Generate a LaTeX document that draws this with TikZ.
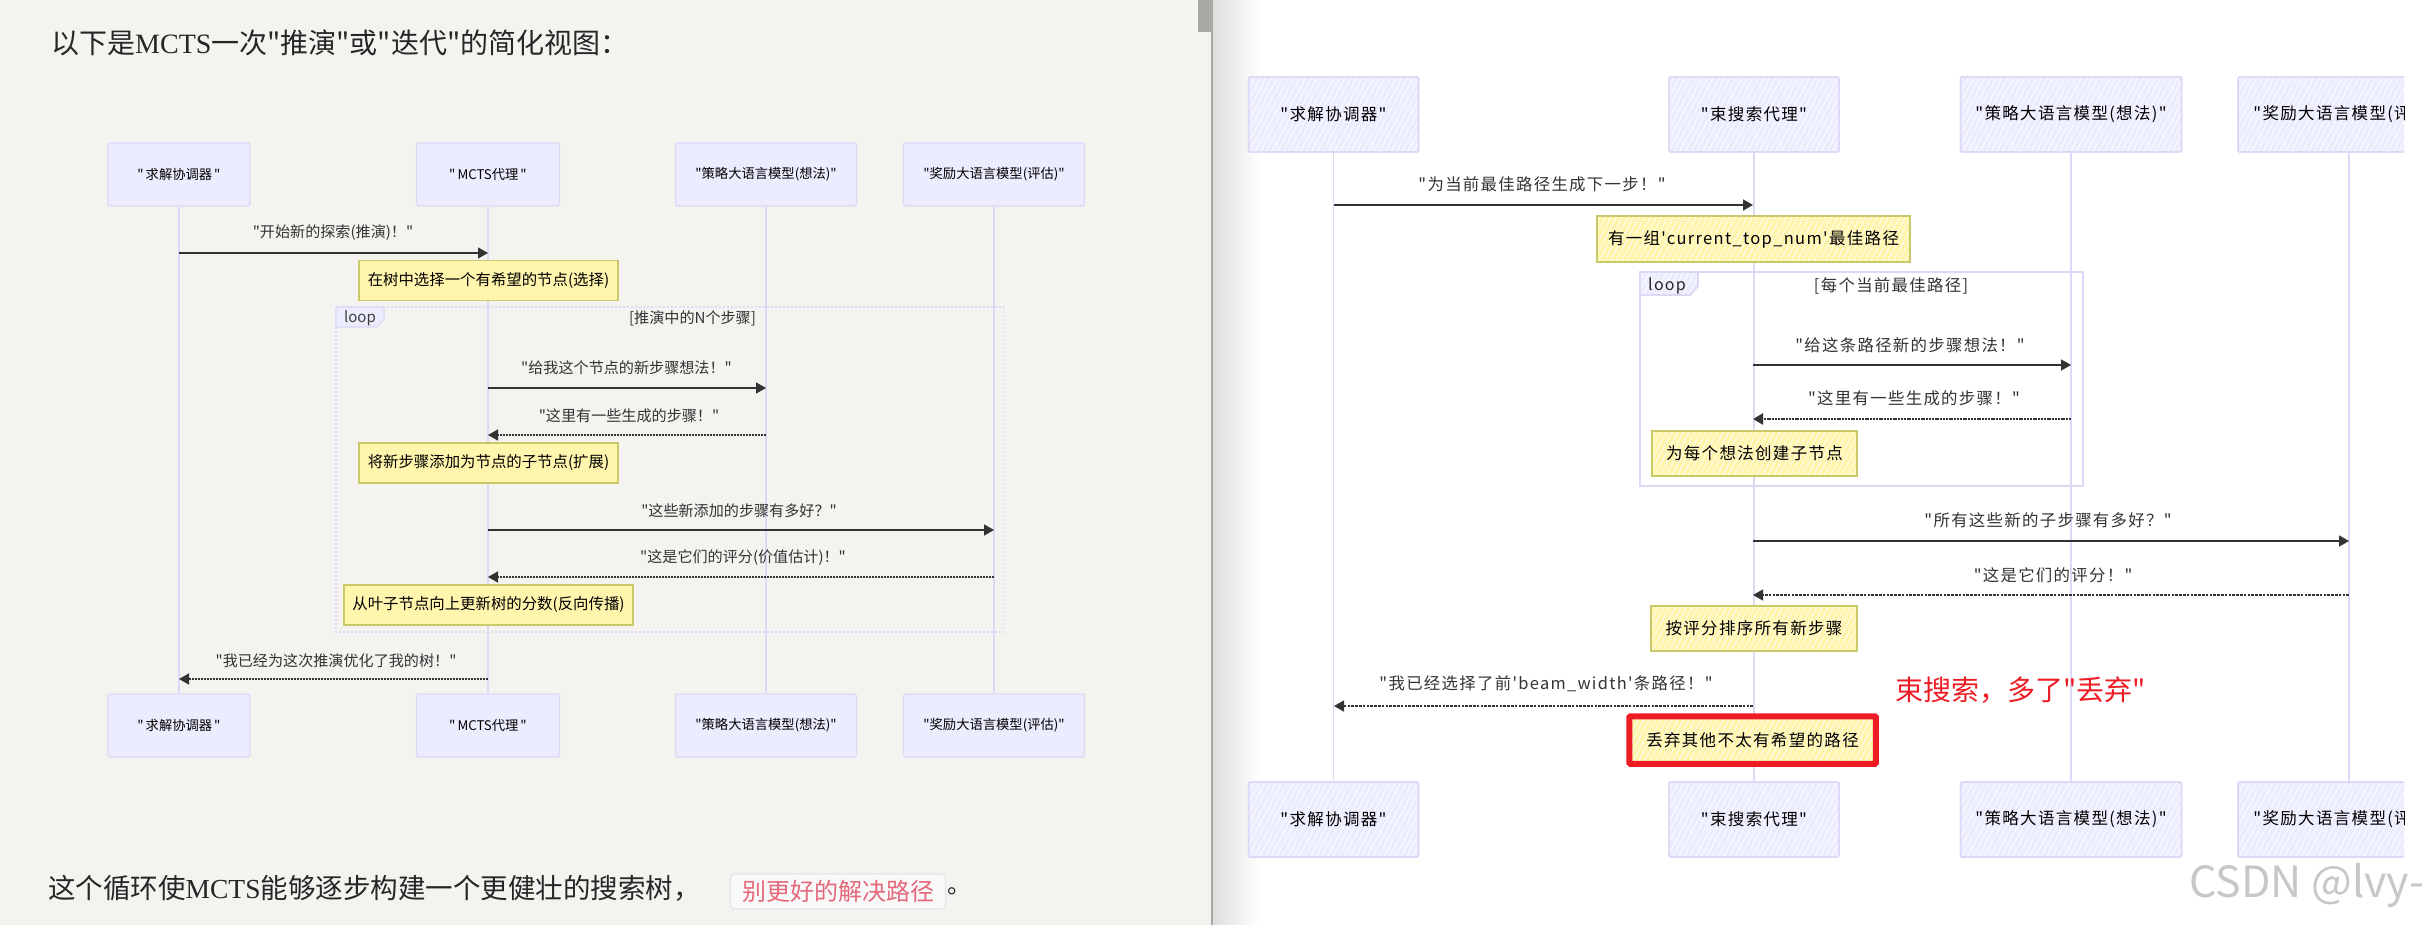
\documentclass[tikz,border=0pt]{standalone}
\usepackage{fontspec}
\setmainfont{Liberation Serif}
\newfontfamily\cjk{Noto Sans CJK SC}
\newfontfamily\cjkh[LetterSpace=8]{Noto Sans CJK SC}
\usetikzlibrary{arrows.meta,patterns.meta}
\definecolor{panelbg}{HTML}{F4F3F0}
\definecolor{actorfill}{HTML}{ECECFF}
\definecolor{actorline}{HTML}{DDD8F6}
\definecolor{notefill}{HTML}{FFF5AD}
\definecolor{noteline}{HTML}{C9C96A}
\definecolor{msgcol}{HTML}{333333}
\definecolor{markred}{HTML}{ED1C24}
\definecolor{chipfill}{HTML}{F9F9F9}
\definecolor{chipline}{HTML}{E6E6EA}
\definecolor{chiptext}{HTML}{E4687A}
\definecolor{barcol}{HTML}{A9A8A5}
\newcommand{\qt}[1]{"\kern2pt #1\kern2pt "}
% full width punctuation
\newcommand{\zbang}{^^^^ff01}
\newcommand{\zask}{^^^^ff1f}
\newcommand{\zcomma}{^^^^ff0c}
\newcommand{\zcolon}{^^^^ff1a}
\tikzset{
  actor/.style={draw=actorline, line width=1.2pt, fill=actorfill, rounded corners=1.5pt, minimum height=63pt, font=\cjk\fontsize{13.3}{16}\selectfont, text=black, inner sep=0pt},
  note/.style={draw=noteline, line width=1.3pt, fill=notefill, minimum height=40pt, font=\cjk\fontsize{15.4}{16}\selectfont, text=black, inner sep=0pt},
  msgtext/.style={font=\cjk\fontsize{15.1}{16}\selectfont, text=msgcol, inner sep=0pt},
  life/.style={actorline, line width=1.1pt},
  msg/.style={msgcol, line width=1.4pt, -{Triangle[length=10pt,width=11pt]}},
  reply/.style={msgcol, line width=1.4pt, dash pattern=on 1.6pt off 1.4pt, -{Triangle[length=10pt,width=11pt]}},
  frame/.style={actorline, line width=1.1pt},
  framelabel/.style={draw=actorline, line width=1.1pt, fill=actorfill},
  % right hand diagram, hatched look
  hatch/.style={postaction={pattern={Lines[angle=62,distance=5pt,line width=.7pt]}, pattern color=white}, postaction={draw}},
  sactor/.style={actor, hatch, line width=1.5pt, minimum height=75pt, font=\cjkh\fontsize{16.5}{18}\selectfont},
  snote/.style={note, hatch, line width=1.5pt, font=\cjkh\fontsize{16.5}{18}\selectfont},
  smsgtext/.style={msgtext, font=\cjkh\fontsize{16.4}{18}\selectfont},
  slife/.style={life, line width=1.4pt},
  sframe/.style={frame, line width=1.6pt}
}
\begin{document}
\begin{tikzpicture}[x=1pt,y=-1pt]
\useasboundingbox (0,0) rectangle (2432,925);

% Panels
\fill[white] (0,0) rectangle (2432,925);
\fill[panelbg] (0,0) rectangle (1212,925);
\fill[barcol] (1198,0) rectangle (1212,32);
\shade[left color=black!13, right color=white] (1213,0) rectangle (1260,925);
\fill[barcol] (1211,0) rectangle (1213,925);

% Left text
\node[anchor=west, inner sep=0pt, text=black!85, font=\fontsize{28}{30}\selectfont] (lefttitle) at (51,43) {{\cjk 以下是}MCTS{\cjk 一次"推演"或"迭代"的简化视图\zcolon}};
\node[anchor=west, inner sep=0pt, text=black!85, font=\fontsize{27.5}{30}\selectfont] (leftfoot) at (48,888) {{\cjk 这个循环使}MCTS{\cjk 能够逐步构建一个更健壮的搜索树\zcomma}};
\node[draw=chipline, line width=1.2pt, fill=chipfill, rounded corners=4pt, minimum width=215pt, minimum height=35pt, inner sep=0pt, font=\cjk\fontsize{24}{26}\selectfont, text=chiptext] (chip) at (838,891.5) {别更好的解决路径};
\node[anchor=west, inner sep=0pt, font=\cjk\fontsize{24}{26}\selectfont, text=black!85] (chipend) at (947,891) {。};

% Left actors
\node[actor, minimum width=142pt] (solverT) at (179,174.5) {\qt{求解协调器}};
\node[actor, minimum width=143pt] (mctsT) at (488,174.5) {\qt{MCTS代理}};
\node[actor, minimum width=181pt] (policyT) at (766,174.5) {"策略大语言模型(想法)"};
\node[actor, minimum width=181pt] (rewardT) at (994,174.5) {"奖励大语言模型(评估)"};
\node[actor, minimum width=142pt] (solverB) at (179,725.5) {\qt{求解协调器}};
\node[actor, minimum width=143pt] (mctsB) at (488,725.5) {\qt{MCTS代理}};
\node[actor, minimum width=181pt] (policyB) at (766,725.5) {"策略大语言模型(想法)"};
\node[actor, minimum width=181pt] (rewardB) at (994,725.5) {"奖励大语言模型(评估)"};
\draw[life] (solverT) -- (solverB);
\draw[life] (mctsT) -- (mctsB);
\draw[life] (policyT) -- (policyB);
\draw[life] (rewardT) -- (rewardB);

% Left loop frame
\draw[frame, dash pattern=on 2pt off 2pt] (336,307) rectangle (1003.5,632);
\draw[framelabel] (336,307) -- (384,307) -- (384,319) -- (377,327) -- (336,327) -- cycle;
\node[msgtext, text=black!75] (loopL) at (360,318) {\fontsize{15}{16}\selectfont loop};
\node[msgtext] (roundsL) at (692.5,318) {[推演中的N个步骤]};

% Left notes
\node[note, minimum width=259pt] (selectN) at (488.5,280.5) {在树中选择一个有希望的节点(选择)};
\node[note, minimum width=259pt] (expandN) at (488.5,463) {将新步骤添加为节点的子节点(扩展)};
\node[note, minimum width=289pt] (backupN) at (488.5,605) {从叶子节点向上更新树的分数(反向传播)};

% Left messages
\coordinate (la1) at (179,253); \coordinate (lb1) at (488,253);
\coordinate (la2) at (488,388); \coordinate (lb2) at (766,388);
\coordinate (la3) at (766,435); \coordinate (lb3) at (488,435);
\coordinate (la4) at (488,530); \coordinate (lb4) at (994,530);
\coordinate (la5) at (994,577); \coordinate (lb5) at (488,577);
\coordinate (la6) at (488,679); \coordinate (lb6) at (179,679);
\draw[msg] (la1) -- (lb1);
\draw[msg] (la2) -- (lb2);
\draw[reply] (la3) -- (lb3);
\draw[msg] (la4) -- (lb4);
\draw[reply] (la5) -- (lb5);
\draw[reply] (la6) -- (lb6);
\node[msgtext] (lt1) at (333,233) {"开始新的探索(推演)\zbang"};
\node[msgtext] (lt2) at (626.5,368) {"给我这个节点的新步骤想法\zbang"};
\node[msgtext] (lt3) at (629,416) {"这里有一些生成的步骤\zbang"};
\node[msgtext] (lt4) at (739,511) {"这些新添加的步骤有多好\zask"};
\node[msgtext] (lt5) at (743,558) {"这是它们的评分(价值估计)\zbang"};
\node[msgtext] (lt6) at (336,661) {"我已经为这次推演优化了我的树\zbang"};

% Right actors
\node[sactor, minimum width=170pt] (solverR) at (1333.5,114.5) {"求解协调器"};
\node[sactor, minimum width=170pt] (beamR) at (1754,114.5) {"束搜索代理"};
\node[sactor, minimum width=221pt] (policyR) at (2071,114.5) {"策略大语言模型(想法)"};
\node[sactor, minimum width=170pt] (solverE) at (1333.5,819.5) {"求解协调器"};
\node[sactor, minimum width=170pt] (beamE) at (1754,819.5) {"束搜索代理"};
\node[sactor, minimum width=221pt] (policyE) at (2071,819.5) {"策略大语言模型(想法)"};
\begin{scope}
\clip (2200,0) rectangle (2404,925);
\node[sactor, minimum width=222pt] (rewardR) at (2349,114.5) {"奖励大语言模型(评估)"};
\node[sactor, minimum width=222pt] (rewardE) at (2349,819.5) {"奖励大语言模型(评估)"};
\end{scope}
\draw[slife] (solverR) -- (solverE);
\draw[slife] (beamR) -- (beamE);
\draw[slife] (policyR) -- (policyE);
\draw[slife] (rewardR) -- (rewardE);

% Right loop frame
\draw[sframe] (1640,272) rectangle (2083,486);
\draw[framelabel, line width=1.6pt, hatch] (1640,272) -- (1698,272) -- (1698,286) -- (1690,295) -- (1640,295) -- cycle;
\node[smsgtext, text=black!85] (loopR) at (1667,286) {\fontsize{16}{16}\selectfont loop};
\node[smsgtext] (roundsR) at (1891,286) {[每个当前最佳路径]};

% Right notes
\node[snote, minimum width=313pt, minimum height=46pt] (topnumN) at (1753.5,239) {有一组'current\_top\_num'最佳路径};
\node[snote, minimum width=205pt, minimum height=45pt] (childN) at (1754.5,453.5) {为每个想法创建子节点};
\node[snote, minimum width=206pt, minimum height=45pt] (sortN) at (1754,628.5) {按评分排序所有新步骤};
\node[snote, minimum width=245pt, minimum height=46pt] (dropN) at (1752.5,740) {丢弃其他不太有希望的路径};
\draw[markred, line width=6pt, rounded corners=1pt] (dropN.north west) rectangle (dropN.south east);

% Right messages
\coordinate (ra1) at (1334,205); \coordinate (rb1) at (1753,205);
\coordinate (ra2) at (1753,365); \coordinate (rb2) at (2071,365);
\coordinate (ra3) at (2071,419); \coordinate (rb3) at (1753,419);
\coordinate (ra4) at (1753,541); \coordinate (rb4) at (2349,541);
\coordinate (ra5) at (2349,595); \coordinate (rb5) at (1753,595);
\coordinate (ra6) at (1753,706); \coordinate (rb6) at (1334,706);
\draw[msg, line width=1.6pt] (ra1) -- (rb1);
\draw[msg, line width=1.6pt] (ra2) -- (rb2);
\draw[reply, line width=2.4pt, dash pattern=on 2pt off .8pt] (ra3) -- (rb3);
\draw[msg, line width=1.6pt] (ra4) -- (rb4);
\draw[reply, dash pattern=on 2.6pt off 1.2pt] (ra5) -- (rb5);
\draw[reply, dash pattern=on 2.6pt off 1.2pt] (ra6) -- (rb6);
\node[smsgtext] (rt1) at (1542,184) {"为当前最佳路径生成下一步\zbang"};
\node[smsgtext] (rt2) at (1910,345) {"给这条路径新的步骤想法\zbang"};
\node[smsgtext] (rt3) at (1914,398) {"这里有一些生成的步骤\zbang"};
\node[smsgtext] (rt4) at (2048,520) {"所有这些新的子步骤有多好\zask"};
\node[smsgtext] (rt5) at (2053,575) {"这是它们的评分\zbang"};
\node[smsgtext] (rt6) at (1546,684) {"我已经选择了前'beam\_width'条路径\zbang"};

% Remark and watermark
\node[anchor=west, inner sep=0pt, font=\cjk\fontsize{28}{32}\selectfont, text=markred] (remark) at (1895,690) {束搜索\zcomma 多了"丢弃"};
\node[anchor=west, inner sep=0pt, font=\cjk\fontsize{43}{45}\selectfont, text=black!22] (mark) at (2189,885) {CSDN @lvy-};
\end{tikzpicture}
\end{document}
